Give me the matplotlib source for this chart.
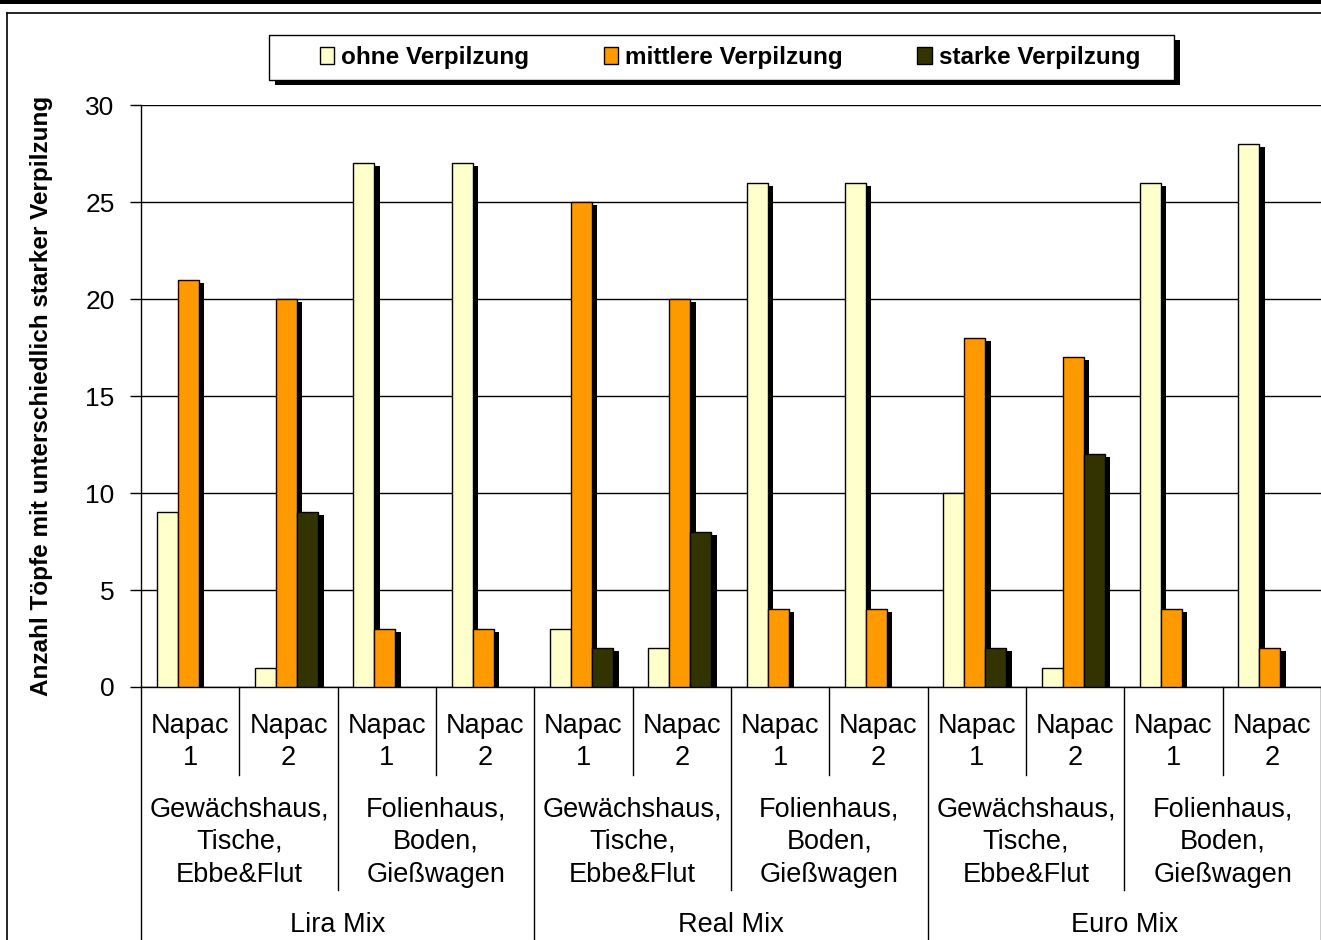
import matplotlib
matplotlib.use("Agg")
import numpy as np
import matplotlib.pyplot as plt
from matplotlib.patches import Rectangle, Patch
from matplotlib.lines import Line2D
from matplotlib.transforms import blended_transform_factory

# ~~~~~~~~~~~~~~~~~~~~~~~ data ~~~~~~~~~~~~~~~~~~~~~~~
series_names = ["ohne Verpilzung", "mittlere Verpilzung", "starke Verpilzung"]
ohne = [9, 1, 27, 27, 3, 2, 26, 26, 10, 1, 26, 28]
mittlere = [21, 20, 3, 3, 25, 20, 4, 4, 18, 17, 4, 2]
starke = [0, 9, 0, 0, 2, 8, 0, 0, 2, 12, 0, 0]

napac_labels = ["Napac\n1", "Napac\n2"] * 6
standort_labels = ["Gewächshaus,\nTische,\nEbbe&Flut", "Folienhaus,\nBoden,\nGießwagen"] * 3
mix_labels = ["Lira Mix", "Real Mix", "Euro Mix"]

colors = ["#FFFFCC", "#FF9900", "#333300"]
ylabel = "Anzahl Töpfe mit unterschiedlich starker Verpilzung"

plt.rcParams['font.family'] = ['Liberation Sans', 'DejaVu Sans']

W, H = 1321, 940
fig = plt.figure(figsize=(W / 100, H / 100), dpi=100)
ax = fig.add_axes([141 / W, 1 - 687 / H, 1 - 141 / W, (687 - 105) / H])

x = np.arange(len(ohne))
bw = 0.214
offs = [-bw - 0.02, -0.02, bw - 0.02]
sx, sy = 0.055, 0.15

all_vals = [ohne, mittlere, starke]
# shadows first
for vals, off in zip(all_vals, offs):
    v = np.array(vals, dtype=float)
    sh = np.where(v > 0, np.maximum(v - sy, 0), 0)
    ax.bar(x + off + sx, sh, bw, color="black", linewidth=0, zorder=2)
for vals, off, c in zip(all_vals, offs, colors):
    v = np.array(vals, dtype=float)
    mask = v > 0
    ax.bar(x[mask] + off, v[mask], bw, color=c, edgecolor="black", linewidth=1.0, zorder=3)

ax.set_xlim(-0.5, len(ohne) - 0.5)
ax.set_ylim(0, 30)
ax.set_yticks(range(0, 31, 5))
ax.yaxis.grid(True, color="black", linewidth=1.0)
ax.set_axisbelow(True)
ax.tick_params(axis="y", length=8, width=1, pad=11, labelsize=19)
ax.set_xticks([])
for s in ["top", "right"]:
    ax.spines[s].set_visible(False)
ax.spines["left"].set_linewidth(1.0)
ax.spines["bottom"].set_linewidth(1.0)

# hierarchical x labels
tr = blended_transform_factory(ax.transData, fig.transFigure)
def fy(px):
    return 1 - px / H

for i, lab in enumerate(napac_labels):
    ax.text(i, fy(742), lab, transform=tr, ha="center", va="center",
            fontsize=19.5, linespacing=1.3)
for j, lab in enumerate(standort_labels):
    ax.text(2 * j + 0.5, fy(842), lab, transform=tr, ha="center", va="center",
            fontsize=19.5, linespacing=1.33)
for k, lab in enumerate(mix_labels):
    ax.text(4 * k + 1.5, fy(925), lab, transform=tr, ha="center", va="center",
            fontsize=19.5)

for b in np.arange(-0.5, len(ohne), 1.0):
    if (b + 0.5) % 4 == 0:
        end = 940
    elif (b + 0.5) % 2 == 0:
        end = 890
    else:
        end = 775
    ax.add_line(Line2D([b, b], [fy(687), fy(end)], transform=tr, color="black",
                       linewidth=1.0, clip_on=False))

fig.text(42 / W, fy(396), ylabel, rotation=90, ha="center", va="center",
         fontsize=17.5, fontweight="bold")

# legend box with shadow
fig.add_artist(Rectangle((275 / W, fy(85)), 905 / W, 45 / H, transform=fig.transFigure,
                         facecolor="black", linewidth=0))
fig.add_artist(Rectangle((269 / W, fy(80)), 905 / W, 45 / H, transform=fig.transFigure,
                         facecolor="white", edgecolor="black", linewidth=1.0))
handles = [Patch(facecolor=c, edgecolor="black", linewidth=1.0) for c in colors]
leg = fig.legend(handles, series_names, loc="center", bbox_to_anchor=(730 / W, fy(57.5)),
                 ncol=3, frameon=False, prop={"weight": "bold", "size": 17.5},
                 handlelength=0.6, handleheight=0.75, handletextpad=0.3,
                 columnspacing=3.05, borderpad=0.0)

# frame lines
fig.add_artist(Rectangle((0, 1 - 4 / H), 1, 4 / H, transform=fig.transFigure,
                         color="black", linewidth=0))
fig.add_artist(Line2D([7 / W, 7 / W], [0, fy(13)], transform=fig.transFigure,
                      color="black", linewidth=1.2))
fig.add_artist(Line2D([7 / W, 1], [fy(13), fy(13)], transform=fig.transFigure,
                      color="black", linewidth=1.2))

fig.savefig("out.png", dpi=100)
